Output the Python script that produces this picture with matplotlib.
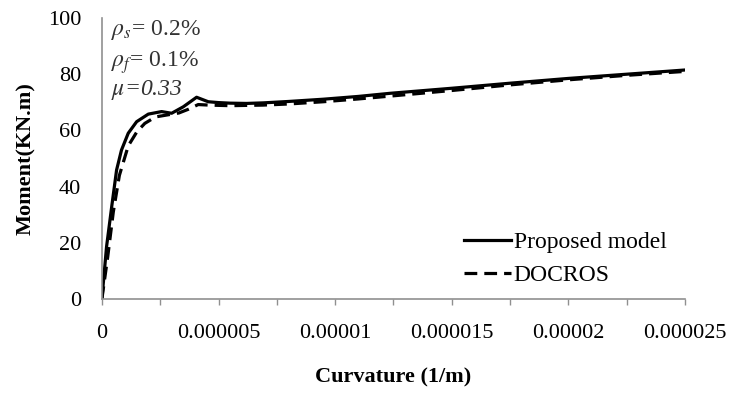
import numpy as np
import matplotlib.pyplot as plt
from matplotlib.ticker import MultipleLocator, FuncFormatter

# moment-curvature response
curv_model = [0, 2.0e-7, 4.2e-7, 6.3e-7, 8.4e-7, 1.13e-6, 1.49e-6, 1.99e-6, 2.56e-6,
              2.99e-6, 3.49e-6, 4.06e-6, 4.56e-6, 5.0e-6, 5.49e-6, 6.2e-6, 6.92e-6,
              8.0e-6, 9.49e-6, 1.1e-5, 1.235e-5, 1.5e-5, 1.75e-5, 2.0e-5, 2.25e-5, 2.5e-5]
mom_model = [0, 18.6, 32.8, 45.9, 53.0, 59.0, 63.1, 65.8, 66.7,
             66.1, 68.4, 71.8, 70.2, 69.9, 69.7, 69.6, 69.8,
             70.3, 71.1, 72.1, 73.2, 75.0, 76.8, 78.5, 80.0, 81.5]

curv_docros = [0, 2.5e-7, 4.9e-7, 7.5e-7, 1.13e-6, 1.5e-6, 1.84e-6, 2.3e-6, 2.8e-6,
               3.3e-6, 3.7e-6, 4.13e-6, 4.6e-6, 5.5e-6, 6.9e-6, 8.0e-6, 9.49e-6,
               1.1e-5, 1.235e-5, 1.5e-5, 1.75e-5, 2.0e-5, 2.25e-5, 2.5e-5]
mom_docros = [0, 15.0, 31.0, 44.0, 54.5, 59.5, 62.5, 64.8, 65.5,
              66.2, 67.5, 69.2, 69.0, 68.8, 69.0, 69.4, 70.2,
              71.2, 72.2, 74.2, 76.2, 78.0, 79.6, 81.0]

plt.rcParams['font.family'] = 'Liberation Serif'

fig = plt.figure(figsize=(7.33, 3.96), dpi=100)
ax = fig.add_axes([0.139, 0.245, 0.7955, 0.7095])

ax.plot(curv_model, mom_model, color='black', lw=2.3, label='Proposed model')
ax.plot(curv_docros, mom_docros, color='black', lw=2.3, ls=(0, (4, 2.2)), label='DOCROS')

ax.set_xlim(0, 2.5e-5)
ax.set_ylim(0, 100)
ax.xaxis.set_major_locator(MultipleLocator(2.5e-6))
ax.yaxis.set_major_locator(MultipleLocator(20))

def curv_fmt(v, pos):
    # label only every second tick (multiples of 5e-6)
    if round(v / 2.5e-6) % 2 == 1:
        return ''
    if abs(v) < 1e-12:
        return '0'
    return np.format_float_positional(round(v, 9), trim='-')

ax.xaxis.set_major_formatter(FuncFormatter(curv_fmt))
ax.tick_params(axis='x', direction='out', length=4, width=1, color='#909090',
               labelsize=16, pad=14)
ax.tick_params(axis='y', length=0, labelsize=16, pad=15)

for s in ['top', 'right']:
    ax.spines[s].set_visible(False)
for s in ['left', 'bottom']:
    ax.spines[s].set_color('#909090')
    ax.spines[s].set_linewidth(1.2)

ax.set_xlabel('Curvature (1/m)', fontsize=16, fontweight='bold', labelpad=18)
ax.set_ylabel('Moment(KN.m)', fontsize=16, fontweight='bold', labelpad=8)

ax.text(0.015, 1.0, r'$\rho_s$= 0.2%', transform=ax.transAxes, fontsize=17,
        va='top', color='#333333', math_fontfamily='stix')
ax.text(0.015, 0.89, r'$\rho_f$= 0.1%', transform=ax.transAxes, fontsize=17,
        va='top', color='#333333', math_fontfamily='stix')
ax.text(0.015, 0.785, r'$\mu$=0.33', transform=ax.transAxes, fontsize=17,
        va='top', color='#333333', style='italic', math_fontfamily='stix')

ax.legend(loc='lower right', bbox_to_anchor=(1.005, -0.03), frameon=False, fontsize=17,
          handlelength=2.0, handletextpad=0.1, labelspacing=0.5)

fig.savefig('out.png', dpi=100)
